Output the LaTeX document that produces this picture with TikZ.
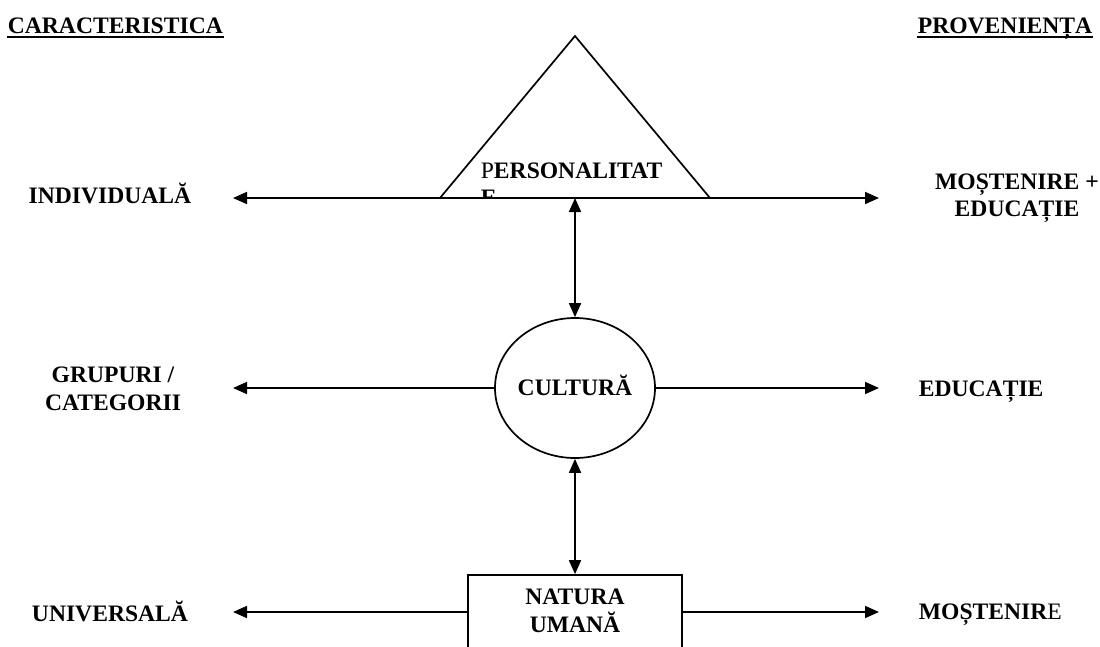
\documentclass[tikz,border=0pt]{standalone}
\usepackage{fontspec}
\setmainfont{Liberation Serif}
\usetikzlibrary{arrows.meta, positioning, shapes.geometric}

\begin{document}
\begin{tikzpicture}[x=1pt, y=-1pt, line width=1.7pt,
	lbl/.style={font=\bfseries\fontsize{23.6}{27.5}\selectfont, align=center, inner sep=0pt},
	link/.style={-{Triangle[length=14pt, width=12pt]}},
	both/.style={{Triangle[length=14pt, width=12pt]}-{Triangle[length=14pt, width=12pt]}}]
	\useasboundingbox (0,0) rectangle (1100,646);

	% headings
	\node[lbl, anchor=base west] (car) at (7,33) {CARACTERISTICA};
	\node[lbl, anchor=base west] (prov) at (917,33) {PROVENIENȚA};
	\draw[line width=2.2pt] ([yshift=-4pt]car.base west) -- ([yshift=-4pt]car.base east);
	\draw[line width=2.2pt] ([yshift=-4pt]prov.base west) -- ([yshift=-4pt]prov.base east);

	% triangle
	\coordinate (apex) at (575,36);
	\coordinate (triL) at (440,198);
	\coordinate (triR) at (710,198);
	\coordinate (triB) at (575,198);
	\begin{scope}
		\clip (apex) -- (triR) -- (triL) -- cycle;
		\node[lbl, anchor=base west] (pers) at (480,178) {{\mdseries P}ERSONALITAT};
		\node[lbl, anchor=base west] (perse) at (480,205) {E};
	\end{scope}
	\draw (apex) -- (triR) -- (triL) -- cycle;

	\node[draw, ellipse, lbl, minimum width=160pt, minimum height=140pt] (cult) at (575,388) {};
	\node[lbl, anchor=base] (culttxt) at (575,395) {CULTURĂ};
	\node[draw, lbl, minimum width=214pt, minimum height=74pt] (nat) at (575,612) {};
	\node[lbl, below=14pt of nat.north] (nattxt) {NATURA\\UMANĂ};

	% left side
	\coordinate (lTop) at (233,198);
	\coordinate (lMid) at (233,388);
	\coordinate (lBot) at (233,612);
	\node[lbl, anchor=base] (indiv) at (110,203) {INDIVIDUALĂ};
	\node[lbl] (grup) at (113,389) {GRUPURI /\\CATEGORII};
	\node[lbl, anchor=base] (univ) at (110,621) {UNIVERSALĂ};

	% right side
	\coordinate (rTop) at (879,198);
	\coordinate (rMid) at (879,388);
	\coordinate (rBot) at (879,612);
	\node[lbl] (most) at (1017,198) {MOȘTENIRE +\\EDUCAȚIE};
	\node[lbl, anchor=base west] (educ) at (918,396) {EDUCAȚIE};
	\node[lbl, anchor=base west] (most2) at (918,619) {MOȘTENIR{\mdseries E}};

	\path[link]
	(triL) edge (lTop)
	(triR) edge (rTop)
	(cult.west) edge (lMid)
	(cult.east) edge (rMid)
	(nat.west) edge (lBot)
	(nat.east) edge (rBot);

	\path[both]
	(triB) edge (cult.north)
	(cult.south) edge (nat.north);
\end{tikzpicture}
\end{document}
